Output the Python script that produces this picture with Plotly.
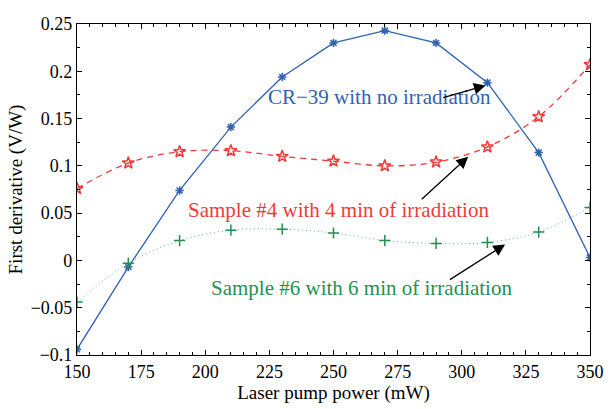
import plotly.graph_objects as go

# Laser pump power (mW)
power = [150, 170, 190, 210, 230, 250, 270, 290, 310, 330, 350]

# First derivative (V/W) for each sample
cr39 = [-0.094, -0.007, 0.074, 0.141, 0.194, 0.230, 0.243, 0.230, 0.188, 0.114, 0.003]
sample4 = [0.076, 0.103, 0.115, 0.116, 0.110, 0.105, 0.100, 0.104, 0.120, 0.152, 0.207]
sample6 = [-0.044, -0.003, 0.021, 0.032, 0.033, 0.029, 0.021, 0.018, 0.019, 0.030, 0.056]

y_ticks = [0.25, 0.2, 0.15, 0.1, 0.05, 0, -0.05, -0.1]
y_tick_text = ["0.25", "0.2", "0.15", "0.1", "0.05", "0", "\u22120.05", "\u22120.1"]
x_ticks = [150, 175, 200, 225, 250, 275, 300, 325, 350]

BLUE = "#2f62b1"
RED = "#f03a3a"
GREEN = "#1f9150"
GREEN_LINE = "#5fb585"
FONT = "Liberation Serif"

fig = go.Figure()

fig.add_trace(go.Scatter(
    x=power, y=cr39, mode="lines+markers",
    line=dict(color=BLUE, width=1.3),
    marker=dict(symbol="asterisk-open", size=7, color=BLUE, line=dict(color=BLUE, width=1.5)),
    showlegend=False,
))
fig.add_trace(go.Scatter(
    x=power, y=sample4, mode="lines+markers",
    line=dict(color=RED, width=1.3, dash="6px,5px", shape="spline", smoothing=1.0),
    marker=dict(symbol="star-open", size=9, color=RED, line=dict(color=RED, width=1.5)),
    showlegend=False,
))
fig.add_trace(go.Scatter(
    x=power, y=sample6, mode="lines",
    line=dict(color=GREEN_LINE, width=1, dash="1px,3px", shape="spline", smoothing=1.0),
    showlegend=False,
))
fig.add_trace(go.Scatter(
    x=power, y=sample6, mode="markers",
    marker=dict(symbol="cross-thin-open", size=8, color=GREEN, line=dict(color=GREEN, width=1.5)),
    showlegend=False,
))

labels = [
    ("CR\u221239 with no irradiation", 268.0, 0.1730, BLUE, (309.3, 0.185), (292.2, 0.1716)),
    ("Sample #4 with 4 min of irradiation", 252.0, 0.053, RED, (302.5, 0.1097), (283.8, 0.0633)),
    ("Sample #6 with 6 min of irradiation", 260.8, -0.0296, GREEN, (316.9, 0.0169), (294.8, -0.0213)),
]
for text, tx, ty, col, head, tail in labels:
    fig.add_annotation(x=tx, y=ty, text=text, showarrow=False,
                       font=dict(family=FONT, size=21, color=col))
    fig.add_annotation(x=head[0], y=head[1], ax=tail[0], ay=tail[1],
                       xref="x", yref="y", axref="x", ayref="y",
                       text="", showarrow=True, arrowhead=2, arrowsize=1.8,
                       arrowwidth=1.3, arrowcolor="black")

axis_common = dict(
    showline=True, linecolor="black", linewidth=1.2, mirror="ticks",
    ticks="inside", ticklen=5, tickwidth=1, tickcolor="black",
    showgrid=False, zeroline=False,
    tickfont=dict(family=FONT, size=18, color="black"),
)

fig.update_xaxes(
    range=[150, 350], tickvals=x_ticks,
    minor=dict(ticks="inside", ticklen=3, dtick=5, tickcolor="black", showgrid=False),
    title=dict(text="Laser pump power (mW)", font=dict(family=FONT, size=19, color="black"), standoff=2),
    **axis_common,
)
fig.update_yaxes(
    range=[-0.1, 0.25], tickvals=y_ticks, ticktext=y_tick_text,
    minor=dict(ticks="inside", ticklen=3, dtick=0.025, tickcolor="black", showgrid=False),
    title=dict(text="First derivative (V/W)", font=dict(family=FONT, size=19, color="black"), standoff=2),
    **axis_common,
)

fig.update_layout(
    width=616, height=409,
    margin=dict(l=77, r=14, t=24, b=46),
    plot_bgcolor="white", paper_bgcolor="white",
)

fig.write_html("out.html")
